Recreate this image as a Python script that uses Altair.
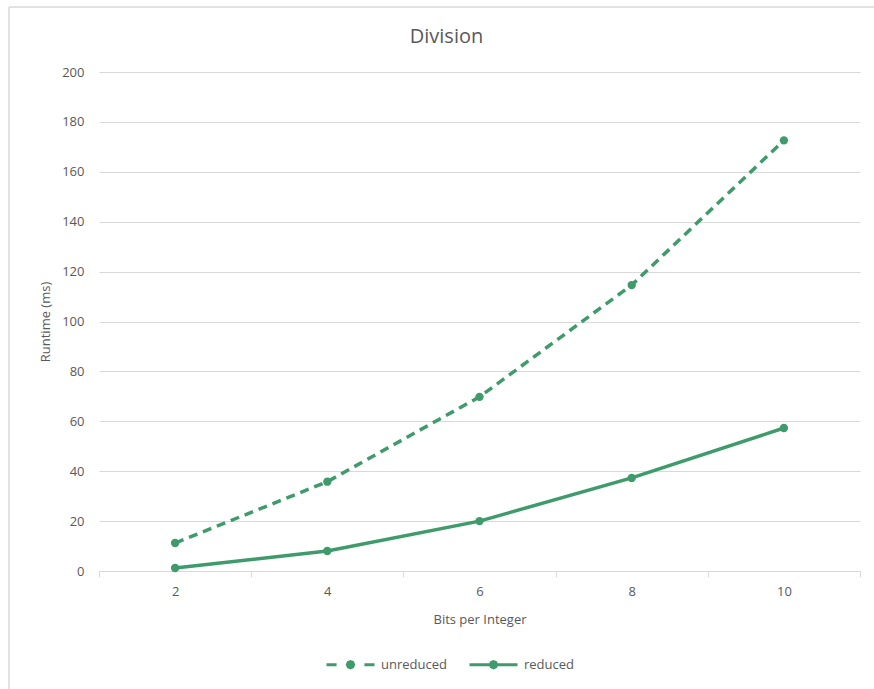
import altair as alt
import pandas as pd

# Runtime of the division routine, by integer width
bits = [2, 4, 6, 8, 10]
unreduced = [11.2, 35.8, 69.8, 114.6, 172.6]
reduced = [1.2, 8.0, 20.0, 37.3, 57.3]
series_names = ["unreduced", "reduced"]

GREEN = "#3f9b6b"
TEXT = "#595959"
GRID = "#d9d9d9"
FONT = "Open Sans"

df = pd.DataFrame(
    {
        "bits": bits * 2,
        "runtime": unreduced + reduced,
        "series": [series_names[0]] * len(bits) + [series_names[1]] * len(bits),
    }
)

# x axis: categories sit at even positions, tick marks between them
x_ticks = list(range(bits[0] - 1, bits[-1] + 2))

x_enc = alt.X(
    "bits:Q",
    scale=alt.Scale(domain=[x_ticks[0], x_ticks[-1]], nice=False, zero=False),
    axis=alt.Axis(
        values=x_ticks,
        format="d",
        labelExpr="datum.value % 2 == 0 ? datum.label : ''",
        title="Bits per Integer",
        grid=False,
        domainColor=GRID,
        domainWidth=1,
        tickSize=6,
        tickColor={
            "condition": {"test": "datum.value % 2 == 1", "value": GRID},
            "value": "rgba(0,0,0,0)",
        },
        labelPadding=8,
        titlePadding=15,
    ),
)

y_enc = alt.Y(
    "runtime:Q",
    scale=alt.Scale(domain=[0, 200], nice=False),
    axis=alt.Axis(
        values=list(range(0, 201, 20)),
        title="Runtime (ms)",
        grid=True,
        gridColor=GRID,
        domain=False,
        ticks=False,
        labelPadding=15,
        titlePadding=9,
    ),
)

base = alt.Chart(df)

line_unreduced = (
    base.transform_filter(alt.datum.series == series_names[0])
    .mark_line(color=GREEN, strokeWidth=3.5, strokeCap="butt", strokeDash=[9, 6])
    .encode(x=x_enc, y=y_enc)
)

line_reduced = (
    base.transform_filter(alt.datum.series == series_names[1])
    .mark_line(color=GREEN, strokeWidth=3.5)
    .encode(x="bits:Q", y="runtime:Q")
)

points = (
    base.mark_point(filled=True, color=GREEN, size=70, opacity=1)
    .encode(x="bits:Q", y="runtime:Q", detail="series:N")
)

# legend glyphs: line segments with a solid dot in the middle
# (two nested octagon outlines so the stroke alone fills the dot)
dot = (
    "M-0.13,0L-0.092,-0.092L0,-0.13L0.092,-0.092L0.13,0L0.092,0.092L0,0.13L-0.092,0.092Z"
    "M-0.05,0L0,-0.05L0.05,0L0,0.05Z"
)
dashed_glyph = "M-1,0L-0.58,0M0.58,0L1,0" + dot
solid_glyph = "M-1,0L1,0" + dot

# this layer only carries the legend; it draws no visible points
legend_layer = (
    base.mark_point(color=GREEN, opacity=0)
    .encode(
        x="bits:Q",
        y="runtime:Q",
        shape=alt.Shape(
            "series:N",
            scale=alt.Scale(domain=series_names, range=[dashed_glyph, solid_glyph]),
            legend=alt.Legend(
                title=None,
                orient="none",
                direction="horizontal",
                legendX=226,
                legendY=567,
                padding=0,
                symbolSize=2304,
                symbolStrokeWidth=3,
                symbolStrokeColor=GREEN,
                symbolFillColor=GREEN,
                symbolOpacity=1,
                labelOffset=5,
                columnPadding=16,
                labelFont=FONT,
                labelFontSize=13,
                labelColor=TEXT,
            ),
        ),
    )
)

# light frame lines along the top and left edges
edge = pd.DataFrame({"k": [0]})
top_edge = alt.Chart(edge).mark_rule(color=GRID, strokeWidth=1.5).encode(
    x=alt.value(-90), x2=alt.value(775), y=alt.value(-65)
)
left_edge = alt.Chart(edge).mark_rule(color=GRID, strokeWidth=1.5).encode(
    x=alt.value(-90), y=alt.value(-65), y2=alt.value(617)
)

chart = (
    alt.layer(top_edge, left_edge, line_unreduced, line_reduced, points, legend_layer)
    .properties(
        width=761,
        height=499,
        title=alt.TitleParams(
            "Division",
            font=FONT,
            fontSize=20,
            fontWeight="normal",
            color=TEXT,
            anchor="middle",
            dx=-33,
            offset=-41,
        ),
        padding={"left": 99, "top": 72, "right": 14, "bottom": 118},
        autosize=alt.AutoSizeParams(type="none"),
    )
    .configure(background="white")
    .configure_view(stroke=None)
    .configure_axis(
        labelFont=FONT,
        labelFontSize=13,
        labelColor=TEXT,
        titleFont=FONT,
        titleFontSize=13,
        titleColor=TEXT,
        titleFontWeight="normal",
    )
)

chart.save("out.html", embed_options={"renderer": "svg", "actions": False})
